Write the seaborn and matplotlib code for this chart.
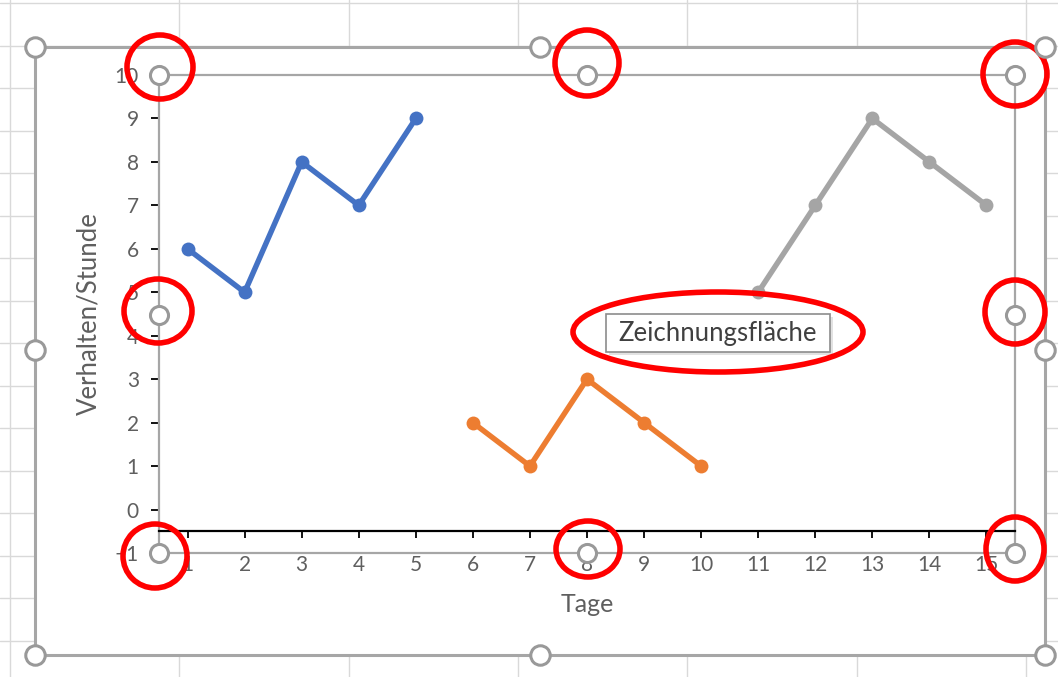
import numpy as np
import pandas as pd
import matplotlib
matplotlib.use("Agg")
import matplotlib.pyplot as plt
import seaborn as sns
from matplotlib.patches import Ellipse, Rectangle

# Daten
tage_a = [1, 2, 3, 4, 5]
werte_a = [6, 5, 8, 7, 9]
tage_b = [6, 7, 8, 9, 10]
werte_b = [2, 1, 3, 2, 1]
tage_c = [11, 12, 13, 14, 15]
werte_c = [5, 7, 9, 8, 7]
x_ticks = list(range(1, 16))
y_ticks = list(range(-1, 11))
farben = ["#4472C4", "#ED7D31", "#A5A5A5"]

df = pd.DataFrame({
    "Tag": tage_a + tage_b + tage_c,
    "Wert": werte_a + werte_b + werte_c,
    "Reihe": ["A"] * 5 + ["B"] * 5 + ["C"] * 5,
})

sns.set_style("white")
plt.rcParams["font.family"] = ["Lato", "DejaVu Sans"]

W, H = 1058, 677
fig = plt.figure(figsize=(W / 100, H / 100), dpi=100)

# Pixel-Layout (Screenshot)
L, R, T, B = 159, 1015, 75, 553          # Zeichnungsfläche
CL, CR, CT, CB = 35, 1045, 47, 655       # Diagrammbereich
grau = "#5f5f5f"
rahmen = "#a6a6a6"

# Hintergrund: Tabellenraster + Diagrammbereich
bg = fig.add_axes([0, 0, 1, 1], zorder=-1)
bg.set_xlim(0, W)
bg.set_ylim(H, 0)
bg.axis("off")
for gx in np.arange(10, W, 169.3):
    bg.axvline(gx, color="#d9d9d9", lw=1, zorder=1)
for gy in np.arange(3, H, 42.5):
    bg.axhline(gy, color="#d9d9d9", lw=1, zorder=1)
bg.add_patch(Rectangle((CL, CT), CR - CL, CB - CT, facecolor="white",
                       edgecolor=rahmen, lw=2.2, zorder=3))

# Hauptdiagramm
ax = fig.add_axes([L / W, (H - B) / H, (R - L) / W, (B - T) / H], zorder=1)
ax.set_facecolor("none")
sns.lineplot(data=df, x="Tag", y="Wert", hue="Reihe", palette=farben,
             marker="o", markersize=10, markeredgewidth=0, linewidth=3.9,
             legend=False, ax=ax)
ax.set_xlim(0.5, 15.5)
ax.set_ylim(-1, 10)
ax.set_xticks(x_ticks)
ax.set_yticks(y_ticks)
for s in ["top", "right", "left"]:
    ax.spines[s].set_color(rahmen)
    ax.spines[s].set_linewidth(1.6)
ax.spines["bottom"].set_position(("data", -0.5))
ax.spines["bottom"].set_color("black")
ax.spines["bottom"].set_linewidth(1.6)
ax.axhline(-1, color=rahmen, lw=1.6, clip_on=False)
ax.tick_params(axis="x", bottom=True, direction="out", length=5, width=1.3,
               color="black", pad=12, labelsize=15, labelcolor=grau)
ax.tick_params(axis="y", left=True, direction="out", length=5.5, width=1.3,
               color="black", pad=9, labelsize=15, labelcolor=grau)
ax.set_xlabel("Tage", fontsize=18, color=grau)
ax.set_ylabel("Verhalten/Stunde", fontsize=18.5, color=grau)
ax.xaxis.set_label_coords(0.5, (B - 593) / (B - T))
ax.yaxis.set_label_coords((101 - L) / (R - L), 0.5)

# Vordergrund: Ziehpunkte, Markierungen, QuickInfo
fg = fig.add_axes([0, 0, 1, 1], zorder=5)
fg.set_xlim(0, W)
fg.set_ylim(H, 0)
fg.axis("off")

mx, my = (L + R) / 2, (T + B) / 2 + 1
cmx, cmy = 540, 350
griffe_chart = [(CL, CT), (cmx, CT), (CR, CT), (CL, cmy), (CR, cmy),
                (CL, CB), (cmx, CB), (CR, CB)]
griffe_plot = [(L, T), (mx, T), (R, T), (L, my), (R, my),
               (L, B), (mx, B), (R, B)]
for px, py in griffe_chart:
    fg.plot(px, py, "o", ms=14, mfc="white", mec="#999999", mew=2.2)
for px, py in griffe_plot:
    fg.plot(px, py, "o", ms=13, mfc="white", mec="#999999", mew=2.2)

rote_kreise = [(160, 67, 66, 64), (587, 63, 64, 66), (1015, 74, 64, 64),
               (158, 311, 68, 64), (1015, 312, 60, 64),
               (155, 556, 64, 64), (588, 549, 64, 56), (1015, 549, 58, 64)]
for cx, cy, ew, eh in rote_kreise:
    fg.add_patch(Ellipse((cx, cy), ew, eh, fill=False, edgecolor="#ff0000", lw=4))

# QuickInfo
fg.add_patch(Rectangle((609, 317), 224, 38, facecolor="#d0d0d0",
                       edgecolor="none", alpha=0.6))
fg.add_patch(Rectangle((606, 314), 224, 38, facecolor="white",
                       edgecolor="#8c8c8c", lw=1.2))
fg.text(718, 334, "Zeichnungsfläche", fontsize=18.5, color="#404040",
        ha="center", va="center")
fg.add_patch(Ellipse((718, 332), 290, 80, fill=False, edgecolor="#ff0000", lw=4))

fig.savefig("out.png", dpi=100)
